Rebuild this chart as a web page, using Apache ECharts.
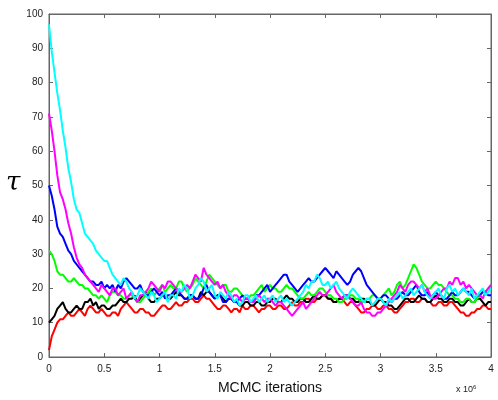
<!DOCTYPE html>
<html>
<head>
<meta charset="utf-8">
<script src="https://cdn.jsdelivr.net/npm/echarts@6/dist/echarts.min.js"></script>
<style>html,body{margin:0;padding:0;background:#fff}#c{width:498px;height:400px}</style>
</head>
<body>
<div id="c"></div>
<script>
// iterations in units of 1e6
var iters = [
  0,0.025,0.05,0.075,0.1,0.125,0.15,0.175,0.2,0.225,0.25,0.275,0.3,0.325,0.35,0.375,0.4,0.425,0.45,0.475,
  0.5,0.525,0.55,0.575,0.6,0.625,0.65,0.675,0.7,0.725,0.75,0.775,0.8,0.825,0.85,0.875,0.9,0.925,0.95,0.975,
  1.0,1.025,1.05,1.075,1.1,1.125,1.15,1.175,1.2,1.225,1.25,1.275,1.3,1.325,1.35,1.375,1.4,1.425,1.45,1.475,
  1.5,1.525,1.55,1.575,1.6,1.625,1.65,1.675,1.7,1.725,1.75,1.775,1.8,1.825,1.85,1.875,1.9,1.925,1.95,1.975,
  2.0,2.025,2.05,2.075,2.1,2.125,2.15,2.175,2.2,2.225,2.25,2.275,2.3,2.325,2.35,2.375,2.4,2.425,2.45,2.475,
  2.5,2.525,2.55,2.575,2.6,2.625,2.65,2.675,2.7,2.725,2.75,2.775,2.8,2.825,2.85,2.875,2.9,2.925,2.95,2.975,
  3.0,3.025,3.05,3.075,3.1,3.125,3.15,3.175,3.2,3.225,3.25,3.275,3.3,3.325,3.35,3.375,3.4,3.425,3.45,3.475,
  3.5,3.525,3.55,3.575,3.6,3.625,3.65,3.675,3.7,3.725,3.75,3.775,3.8,3.825,3.85,3.875,3.9,3.925,3.95,3.975,
  4.0];

var cyanChain = [
  97,89,83,77,72,66,61,55,51,46,43,42,39,36,35,34,33,31,30,29,
  28,28,26,24,23,22,21,23,22,20,19,17,18,20,19,18,17,19,18,16,
  17,18,19,16,18,18,17,20,19,21,20,17,18,20,21,23,22,19,20,21,
  18,17,19,18,17,19,18,16,17,15,16,18,18,16,17,18,16,17,18,16,
  17,18,16,17,18,16,17,16,15,16,17,18,19,21,20,22,22,24,23,21,
  21,22,20,21,22,20,19,18,17,19,20,19,18,17,16,17,17,15,16,17,
  17,16,15,17,16,17,18,19,17,18,19,20,18,19,20,21,19,18,17,18,
  19,20,18,17,20,21,19,20,18,19,20,19,18,20,17,18,19,20,18,19,
  20];
var magentaChain = [
  71,66,60,53,48,46,43,39,36,32,29,27,26,24,23,22,21,20,19,21,
  20,19,18,20,20,18,19,20,17,18,19,17,16,18,18,19,20,22,21,20,
  19,21,20,22,22,21,20,19,19,20,21,20,22,24,23,22,26,24,23,22,
  21,22,20,21,19,18,17,18,18,17,16,17,17,16,16,17,18,17,16,17,
  17,16,15,16,16,15,14,13,12,13,14,15,16,14,15,16,17,18,19,18,
  18,19,20,21,19,18,17,18,18,17,16,15,15,16,14,13,13,12,12,13,
  13,14,15,16,17,18,19,21,20,19,21,22,22,21,20,21,19,20,18,17,
  17,18,19,20,20,22,21,23,23,21,22,20,21,20,19,18,18,17,19,20,
  21];
var blueChain = [
  50,47,43,38,36,35,33,31,30,28,27,26,25,24,23,22,22,21,21,22,
  20,21,20,21,19,21,20,22,23,22,21,20,20,21,19,18,18,19,20,19,
  18,19,17,18,18,19,20,19,18,17,17,18,18,17,17,18,20,21,19,18,
  17,18,18,16,16,17,17,16,16,17,18,17,17,16,16,18,18,19,20,21,
  19,20,21,22,23,24,24,22,21,20,19,20,21,22,23,22,22,23,24,25,
  26,25,24,23,25,24,23,22,21,22,24,25,26,25,23,21,20,19,18,17,
  17,18,18,17,16,17,17,18,19,18,18,19,20,21,19,18,18,19,17,18,
  19,18,18,17,17,18,19,18,18,19,20,19,19,18,17,18,18,19,19,18,
  18];
var greenChain = [
  31,30,28,25,24,24,23,22,22,23,22,21,21,20,20,19,18,18,17,18,
  17,16,18,19,19,18,18,17,17,18,18,17,16,16,17,18,19,20,18,19,
  20,21,19,20,21,20,20,22,22,20,19,20,21,23,22,21,20,22,24,23,
  22,21,20,21,21,19,19,20,20,19,18,17,17,18,18,19,20,21,19,20,
  21,20,20,19,19,20,21,20,20,19,18,17,17,18,19,18,18,19,20,20,
  19,18,18,17,17,16,16,17,17,18,18,17,17,16,16,17,17,18,18,17,
  17,18,19,20,18,19,21,22,20,21,23,25,27,26,24,22,21,20,20,21,
  22,21,21,20,19,18,18,17,17,16,16,17,17,16,16,17,18,19,19,20,
  21];
var blackChain = [
  10,11,12,14,15,16,14,13,13,14,15,14,14,16,16,17,15,16,14,15,
  15,14,14,15,15,16,17,16,16,17,17,18,16,17,18,19,17,16,16,17,
  17,18,18,17,17,18,19,18,18,17,17,18,18,17,17,19,18,19,19,18,
  17,18,18,17,16,17,17,16,16,15,15,16,16,15,15,16,16,15,15,16,
  16,17,17,16,16,17,18,17,17,16,16,17,17,16,16,17,18,17,17,18,
  18,17,17,16,16,17,17,18,18,17,17,16,16,17,17,16,16,15,15,16,
  17,16,16,15,15,14,14,15,16,17,17,16,16,17,18,17,17,16,16,17,
  18,17,17,16,16,17,17,16,16,15,15,16,17,16,16,17,17,16,15,16,
  16];
var redChain = [
  2,6,8,10,11,11,12,13,12,12,13,14,13,12,14,15,14,13,13,14,
  13,12,12,13,13,12,14,15,16,15,14,13,13,14,14,13,13,12,12,13,
  14,15,15,14,14,15,16,15,15,16,16,17,17,16,16,17,18,17,17,16,
  15,14,14,15,15,14,13,14,14,13,15,14,14,15,15,14,13,14,14,15,
  15,14,14,15,15,14,14,15,16,15,15,16,16,17,17,16,16,17,17,18,
  18,17,17,16,16,17,17,16,15,16,16,15,14,13,13,14,14,15,15,14,
  14,15,15,14,14,13,13,14,15,16,16,17,17,16,16,17,17,16,16,15,
  15,16,16,15,15,16,16,15,14,13,13,12,12,13,13,14,14,15,15,14,
  14];

var xTicks = [0,0.5,1,1.5,2,2.5,3,3.5,4];
var yTicks = [0,10,20,30,40,50,60,70,80,90,100];

function pairs(vals){ return iters.map(function(x,i){ return [x, vals[i]]; }); }

var chains = [
  {name:'red', color:'#ff0000', data:redChain},
  {name:'black', color:'#000000', data:blackChain},
  {name:'green', color:'#00ff00', data:greenChain},
  {name:'blue', color:'#0000ff', data:blueChain},
  {name:'magenta', color:'#ff00ff', data:magentaChain},
  {name:'cyan', color:'#00ffff', data:cyanChain}
];

var axisCol = '#666';
var font = '"Liberation Sans", Arial, sans-serif';
var chart = echarts.init(document.getElementById('c'), null, {renderer:'canvas'});
var series = chains.map(function(c, i){
  var sec = (i === chains.length - 1) ? 1 : 0;
  return {type:'line', name:c.name, data:pairs(c.data), showSymbol:false, symbol:'none',
    xAxisIndex:sec, yAxisIndex:sec,
    lineStyle:{color:c.color,width:2}, itemStyle:{color:c.color}};
});
chart.setOption({
  animation:false,
  backgroundColor:'#fff',
  grid:{left:49, right:7, top:14, bottom:39, show:true, borderColor:axisCol, borderWidth:1, backgroundColor:'transparent'},
  xAxis:[{
    type:'value', min:0, max:4, interval:0.5, position:'bottom',
    axisLine:{show:true,onZero:false,lineStyle:{color:axisCol,width:1}},
    axisTick:{show:true,inside:true,length:4,lineStyle:{color:axisCol}},
    axisLabel:{color:'#222',fontSize:10,fontFamily:font,margin:7},
    splitLine:{show:false},
    name:'MCMC iterations', nameLocation:'middle', nameGap:24,
    nameTextStyle:{color:'#111',fontSize:14,fontFamily:font}
  },{
    type:'value', min:0, max:4, interval:0.5, position:'top',
    axisLine:{show:true,onZero:false,lineStyle:{color:axisCol,width:1}},
    axisTick:{show:true,inside:true,length:4,lineStyle:{color:axisCol}},
    axisLabel:{show:false}, splitLine:{show:false}
  }],
  yAxis:[{
    type:'value', min:0, max:100, interval:10, position:'left',
    axisLine:{show:true,onZero:false,lineStyle:{color:axisCol,width:1}},
    axisTick:{show:true,inside:true,length:4,lineStyle:{color:axisCol}},
    axisLabel:{color:'#222',fontSize:10,fontFamily:font,margin:6},
    splitLine:{show:false}
  },{
    type:'value', min:0, max:100, interval:10, position:'right',
    axisLine:{show:true,onZero:false,lineStyle:{color:axisCol,width:1}},
    axisTick:{show:true,inside:true,length:4,lineStyle:{color:axisCol}},
    axisLabel:{show:false}, splitLine:{show:false}
  }],
  series: series,
  graphic:[
    {type:'text', left:6, top:170, style:{text:'\u03c4', font:'italic 26px "DejaVu Serif", "Liberation Serif", serif', fill:'#000'}},
    {type:'text', left:456, top:384, style:{text:'x 10{s|6}', font:'9px "Liberation Sans", Arial, sans-serif', fill:'#222',
      rich:{s:{fontSize:6, verticalAlign:'top', padding:[0,0,6,0]}}}}
  ]
});
</script>
</body>
</html>
